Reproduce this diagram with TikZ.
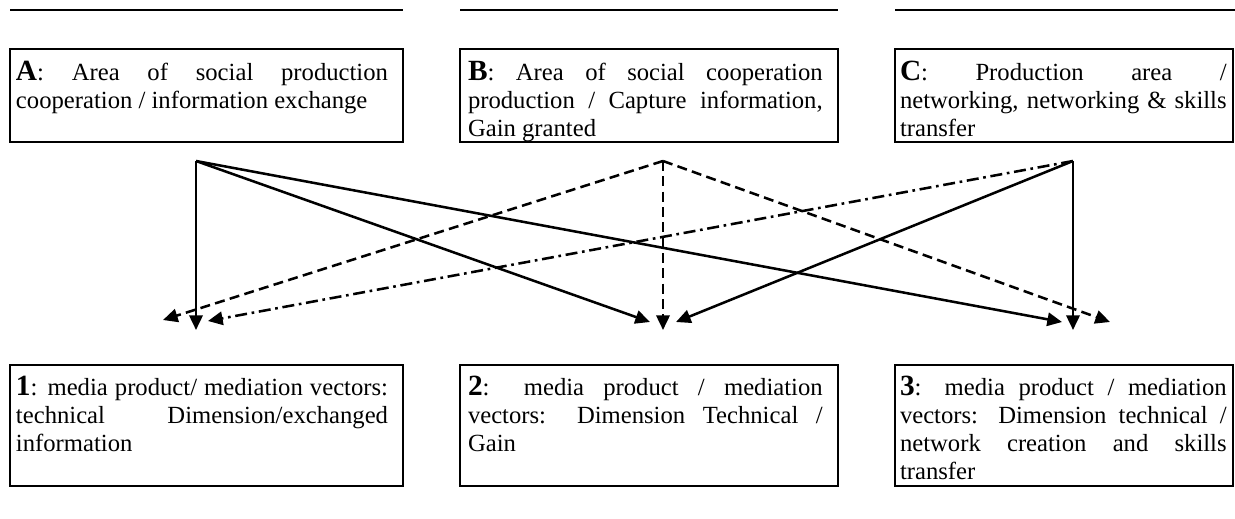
\documentclass[tikz,border=0pt]{standalone}
\usepackage{fontspec}
\setmainfont{Liberation Serif}
\usetikzlibrary{arrows.meta}
\newcommand{\jline}[1]{\makebox[\linewidth][s]{#1}}
\newcommand{\bletter}[1]{{\fontsize{22}{21}\selectfont\bfseries #1}}
\newcommand{\boxtext}[2]{\parbox[t]{#1}{\setlength{\parindent}{0pt}\fontsize{18.5}{21}\selectfont #2}}
\begin{document}
\begin{tikzpicture}[x=0.75pt,y=-0.75pt,
  box/.style={draw, line width=2pt, anchor=north west, inner sep=0pt, outer sep=0pt},
  topbox/.style={box, minimum height=69.75pt},
  botbox/.style={box, minimum height=90.75pt},
  txt/.style={anchor=base west, inner sep=0pt, outer sep=0pt},
  conn/.style={line width=1.9pt, -{Triangle[length=11pt,width=10pt]}},
  dconn/.style={conn, dash pattern=on 7.5pt off 4pt},
  ddconn/.style={conn, dash pattern=on 9pt off 3.5pt on 2pt off 3.5pt},
  rule/.style={line width=2pt}]
\useasboundingbox (0,0) rectangle (1235,518);

% top rules
\draw[rule] (10,10) -- (403,10);
\draw[rule] (460,10) -- (838,10);
\draw[rule] (895,10) -- (1235,10);

% top boxes
\node[topbox, minimum width=294.75pt] (A) at (10,49) {};
\node[topbox, minimum width=283.5pt] (B) at (460,49) {};
\node[topbox, minimum width=253.5pt] (C) at (895,49) {};
% bottom boxes
\node[botbox, minimum width=294.75pt] (P1) at (10,365) {};
\node[botbox, minimum width=283.5pt] (P2) at (460,365) {};
\node[botbox, minimum width=253.5pt] (P3) at (895,365) {};

% texts
\node[txt] (At) at (16,80) {\boxtext{279pt}{%
  \jline{\bletter{A}: Area of social production}\\
  cooperation / information exchange}};
\node[txt] (Bt) at (468,80) {\boxtext{266pt}{%
  \jline{\bletter{B}: Area of social cooperation}\\
  \jline{production / Capture information,}\\
  Gain granted}};
\node[txt] (Ct) at (900,80) {\boxtext{245pt}{%
  \jline{\bletter{C}: Production area /}\\
  \jline{networking, networking \& skills}\\
  transfer}};
\node[txt] (P1t) at (16,395) {\boxtext{279pt}{%
  \jline{\bletter{1}: media product/ mediation vectors:}\\
  \jline{technical Dimension/exchanged}\\
  information}};
\node[txt] (P2t) at (468,395) {\boxtext{266pt}{%
  \jline{\bletter{2}: media product / mediation}\\
  \jline{vectors: Dimension Technical /}\\
  Gain}};
\node[txt] (P3t) at (900,395) {\boxtext{245pt}{%
  \jline{\bletter{3}: media product / mediation}\\
  \jline{vectors: Dimension technical /}\\
  \jline{network creation and skills}\\
  transfer}};

% connector start and end points
\coordinate (sa) at (196,161);
\coordinate (sb) at (663,161);
\coordinate (sc) at (1073,161);
\coordinate (t1a) at (196,330);
\coordinate (t1b) at (163,320);
\coordinate (t1c) at (208,321);
\coordinate (t2a) at (650,322);
\coordinate (t2b) at (663,330);
\coordinate (t2c) at (676,322);
\coordinate (t3a) at (1062,322);
\coordinate (t3b) at (1110,322);
\coordinate (t3c) at (1073,330);

% A: solid
\draw[conn] (sa) -- (t1a);
\draw[conn] (sa) -- (t2a);
\draw[conn] (sa) -- (t3a);
% B: dashed
\draw[dconn] (sb) -- (t1b);
\draw[dconn] (sb) -- (t2b);
\draw[dconn] (sb) -- (t3b);
% C: dash-dot to 1, solid to 2 and 3
\draw[ddconn] (sc) -- (t1c);
\draw[conn] (sc) -- (t2c);
\draw[conn] (sc) -- (t3c);
\end{tikzpicture}
\end{document}
